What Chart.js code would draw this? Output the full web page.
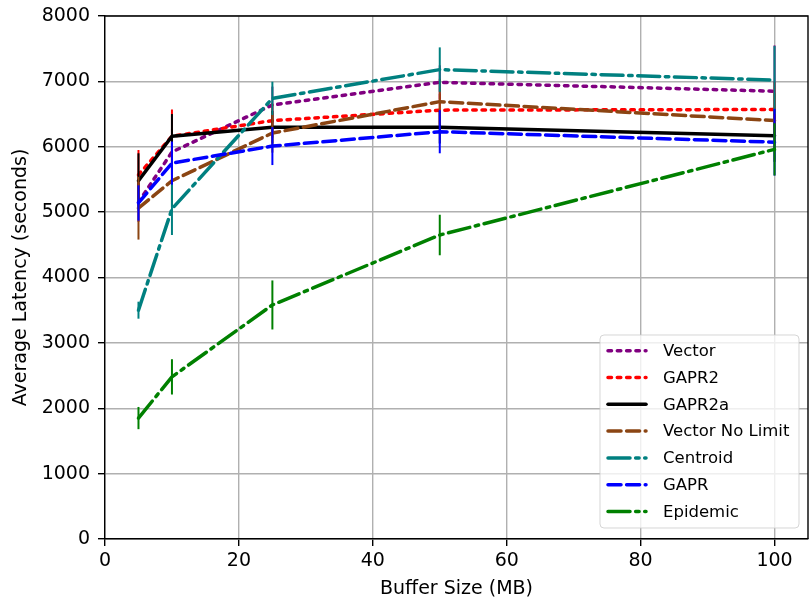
<!DOCTYPE html>
<html>
<head>
<meta charset="utf-8">
<script src="https://cdn.jsdelivr.net/npm/chart.js@4/dist/chart.umd.min.js"></script>
<style>
  html, body { margin: 0; padding: 0; background: #fff; }
  #wrap { width: 812px; height: 613px; }
</style>
</head>
<body>
<div id="wrap"><canvas id="chart" width="812" height="613"></canvas></div>
<script>
// Dữ liệu
const bufferSizes = [5, 10, 25, 50, 100];
const xTicks = [0, 20, 40, 60, 80, 100];

const vectorVals        = [5150, 5920, 6640, 6985, 6850];
const gapr2Vals         = [5570, 6160, 6400, 6560, 6570];
const gapr2aVals        = [5480, 6160, 6300, 6300, 6170];
const vectorNoLimitVals = [5060, 5480, 6210, 6690, 6400];
const centroidVals      = [3500, 5050, 6740, 7180, 7020];
const gaprVals          = [5140, 5750, 6010, 6230, 6070];
const epidemicVals      = [1850, 2480, 3580, 4650, 5960];

// Sai số (vẽ thành thanh dọc, không có mũ)
const vectorErr        = [300, 350, 280, 260, 700];
const gapr2Err         = [380, 410, 260, 250, 420];
const gapr2aErr        = [420, 340, 250, 250, 400];
const vectorNoLimitErr = [480, 400, 300, 350, 420];
const centroidErr      = [130, 400, 255, 340, 520];
const gaprErr          = [270, 330, 290, 330, 510];
const epidemicErr      = [170, 270, 375, 310, 400];

const FONT = "'DejaVu Sans', sans-serif";
const LW = 3.5;
const DOTTED  = [3.5, 5.8];
const DASHED  = [13, 5.6];
const DASHDOT = [22, 5.6, 3.5, 5.6];

const seriesDefs = [
  { label: 'Vector',          vals: vectorVals,        err: vectorErr,        color: '#800080', dash: DOTTED },
  { label: 'GAPR2',           vals: gapr2Vals,         err: gapr2Err,         color: '#ff0000', dash: DOTTED },
  { label: 'GAPR2a',          vals: gapr2aVals,        err: gapr2aErr,        color: '#000000', dash: [] },
  { label: 'Vector No Limit', vals: vectorNoLimitVals, err: vectorNoLimitErr, color: '#8b4513', dash: DASHED },
  { label: 'Centroid',        vals: centroidVals,      err: centroidErr,      color: '#008080', dash: DASHDOT },
  { label: 'GAPR',            vals: gaprVals,          err: gaprErr,          color: '#0000ff', dash: DASHED },
  { label: 'Epidemic',        vals: epidemicVals,      err: epidemicErr,      color: '#008000', dash: DASHDOT }
];

function toPoints(vals) {
  return bufferSizes.map((x, i) => ({ x: x, y: vals[i] }));
}

const datasets = seriesDefs.map((s, i) => ({
  label: s.label,
  data: toPoints(s.vals),
  borderColor: s.color,
  backgroundColor: s.color,
  borderWidth: LW,
  borderDash: s.dash,
  borderCapStyle: 'round',
  borderJoinStyle: 'round',
  pointRadius: 0,
  tension: 0,
  fill: false,
  order: seriesDefs.length - i   // series sau vẽ đè lên series trước, như matplotlib
}));

// Thanh sai số cho từng dataset, vẽ ngay sau đường của nó
const errorBarPlugin = {
  id: 'errorBars',
  afterDatasetDraw(chart, args) {
    const s = seriesDefs[args.index];
    const { ctx, chartArea } = chart;
    const xs = chart.scales.x, ys = chart.scales.y;
    ctx.save();
    ctx.beginPath();
    ctx.rect(chartArea.left, chartArea.top, chartArea.right - chartArea.left, chartArea.bottom - chartArea.top);
    ctx.clip();
    ctx.strokeStyle = s.color;
    ctx.lineWidth = 2;
    ctx.setLineDash([]);
    for (let i = 0; i < bufferSizes.length; i++) {
      const px = xs.getPixelForValue(bufferSizes[i]);
      ctx.beginPath();
      ctx.moveTo(px, ys.getPixelForValue(s.vals[i] - s.err[i]));
      ctx.lineTo(px, ys.getPixelForValue(s.vals[i] + s.err[i]));
      ctx.stroke();
    }
    ctx.restore();
  }
};

// Khung trên + phải, và chú thích trong góc dưới phải
const framePlugin = {
  id: 'frameLegend',
  afterDraw(chart) {
    const { ctx, chartArea } = chart;
    ctx.save();
    ctx.strokeStyle = '#000';
    ctx.lineWidth = 1.4;
    ctx.beginPath();
    ctx.moveTo(chartArea.left, chartArea.top);
    ctx.lineTo(chartArea.right, chartArea.top);
    ctx.lineTo(chartArea.right, chartArea.bottom);
    ctx.stroke();

    // hộp chú thích
    const bx = 600, by = 335, bw = 199, bh = 193, r = 4;
    ctx.beginPath();
    ctx.moveTo(bx + r, by);
    ctx.arcTo(bx + bw, by, bx + bw, by + bh, r);
    ctx.arcTo(bx + bw, by + bh, bx, by + bh, r);
    ctx.arcTo(bx, by + bh, bx, by, r);
    ctx.arcTo(bx, by, bx + bw, by, r);
    ctx.closePath();
    ctx.fillStyle = 'rgba(255,255,255,0.8)';
    ctx.fill();
    ctx.strokeStyle = 'rgba(204,204,204,0.8)';
    ctx.lineWidth = 1;
    ctx.stroke();

    ctx.font = '16.5px ' + FONT;
    ctx.textBaseline = 'middle';
    ctx.textAlign = 'left';
    seriesDefs.forEach((s, i) => {
      const y = 350.7 + i * 26.8;
      ctx.strokeStyle = s.color;
      ctx.lineWidth = LW;
      ctx.lineCap = 'round';
      ctx.setLineDash(s.dash);
      ctx.beginPath();
      ctx.moveTo(608, y);
      ctx.lineTo(646, y);
      ctx.stroke();
      ctx.setLineDash([]);
      ctx.fillStyle = '#000';
      ctx.fillText(s.label, 663, y + 1);
    });
    ctx.restore();
  }
};

const ctx = document.getElementById('chart').getContext('2d');
const chart = new Chart(ctx, {
  type: 'line',
  data: { datasets: datasets },
  plugins: [errorBarPlugin, framePlugin],
  options: {
    responsive: false,
    animation: false,
    layout: { padding: { top: 16, right: 4, left: 0, bottom: 0 } },
    plugins: {
      legend: { display: false },
      tooltip: { enabled: false },
      title: { display: false }
    },
    scales: {
      x: {
        type: 'linear',
        min: 0,
        max: 105,
        afterBuildTicks: scale => { scale.ticks = xTicks.map(v => ({ value: v })); },
        afterFit: scale => {
          scale.height = 74;
          scale.paddingLeft = 0;
          scale.paddingRight = 0;
        },
        ticks: {
          color: '#000',
          font: { family: FONT, size: 19 },
          padding: 4,
          maxRotation: 0,
          callback: v => String(v)
        },
        grid: {
          color: '#b0b0b0',
          lineWidth: 1.4,
          tickColor: '#000',
          tickLength: 7,
          tickWidth: 1.4
        },
        border: { color: '#000', width: 1.4 },
        title: {
          display: true,
          text: 'Buffer Size (MB)',
          color: '#000',
          font: { family: FONT, size: 19 },
          padding: { top: 0, bottom: 13 }
        }
      },
      y: {
        min: 0,
        max: 8000,
        afterFit: scale => {
          scale.width = 105;
          scale.paddingTop = 0;   // không để nhãn 8000 đẩy vùng vẽ xuống
          scale.paddingBottom = 0;
        },
        ticks: {
          stepSize: 1000,
          color: '#000',
          font: { family: FONT, size: 19 },
          padding: 8,
          callback: v => String(v)
        },
        grid: {
          color: '#b0b0b0',
          lineWidth: 1.4,
          tickColor: '#000',
          tickLength: 7,
          tickWidth: 1.4
        },
        border: { color: '#000', width: 1.4 },
        title: {
          display: true,
          text: 'Average Latency (seconds)',
          color: '#000',
          font: { family: FONT, size: 19 },
          padding: { top: 10, bottom: 0 }
        }
      }
    }
  }
});
</script>
</body>
</html>
